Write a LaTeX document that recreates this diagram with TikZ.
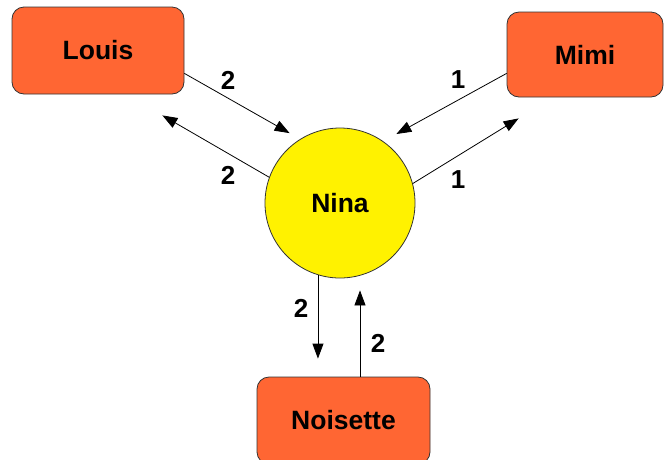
\documentclass[tikz,border=0pt]{standalone}
\usepackage{fontspec}
\setmainfont{Liberation Sans}
\usetikzlibrary{arrows.meta}
\definecolor{boxorange}{RGB}{255,102,51}

\tikzset{
  person/.style={draw=black!80, fill=boxorange, rounded corners=12pt, minimum width=172pt, minimum height=87pt, font=\fontsize{26.5}{30}\selectfont\bfseries},
  hub/.style={circle, draw=black!80, fill=yellow, minimum size=150pt, inner sep=0pt, font=\fontsize{26.5}{30}\selectfont\bfseries},
  weight/.style={font=\fontsize{26}{30}\selectfont\bfseries}
}

\begin{document}
\begin{tikzpicture}[x=1pt,y=-1pt, >={Triangle[length=15pt,width=11pt]}, line width=0.8pt]
\clip (0,0) rectangle (668,459);
\useasboundingbox (0,0) rectangle (668,459);
\node[person] (louis) at (98,50.5) {Louis};
\node[person, minimum width=156pt, minimum height=85pt] (mimi) at (585,54.5) {Mimi};
\node[person, minimum width=173pt] (noisette) at (343.5,420.5) {Noisette};
\node[hub] (nina) at (340,203) {Nina};
% Louis <-> Nina
\draw[->, shorten >=12pt] ([yshift=21pt]louis.south east) -- (nina.122);
\draw[->] (nina.160) -- ([xshift=-22pt,yshift=-21pt]louis.south east);
\node[weight] (l1) at (228,80) {2};
\node[weight] (l2) at (228,175) {2};
% Mimi <-> Nina
\draw[->, shorten >=15pt] ([yshift=24pt]mimi.south west) -- (nina.55);
\draw[->] (nina.15) -- ([xshift=12pt,yshift=-21pt]mimi.south west);
\node[weight] (m1) at (458,80) {1};
\node[weight] (m2) at (458,180) {1};
% Noisette <-> Nina
\draw[->, shorten >=18pt] (nina.253) -- (nina.253 |- noisette.north);
\draw[->, shorten >=12pt] ([xshift=16.5pt]noisette.north) -- ([xshift=16.5pt]noisette.north |- nina.south);
\node[weight] (n1) at (301,308) {2};
\node[weight] (n2) at (378,343) {2};
\end{tikzpicture}
\end{document}
